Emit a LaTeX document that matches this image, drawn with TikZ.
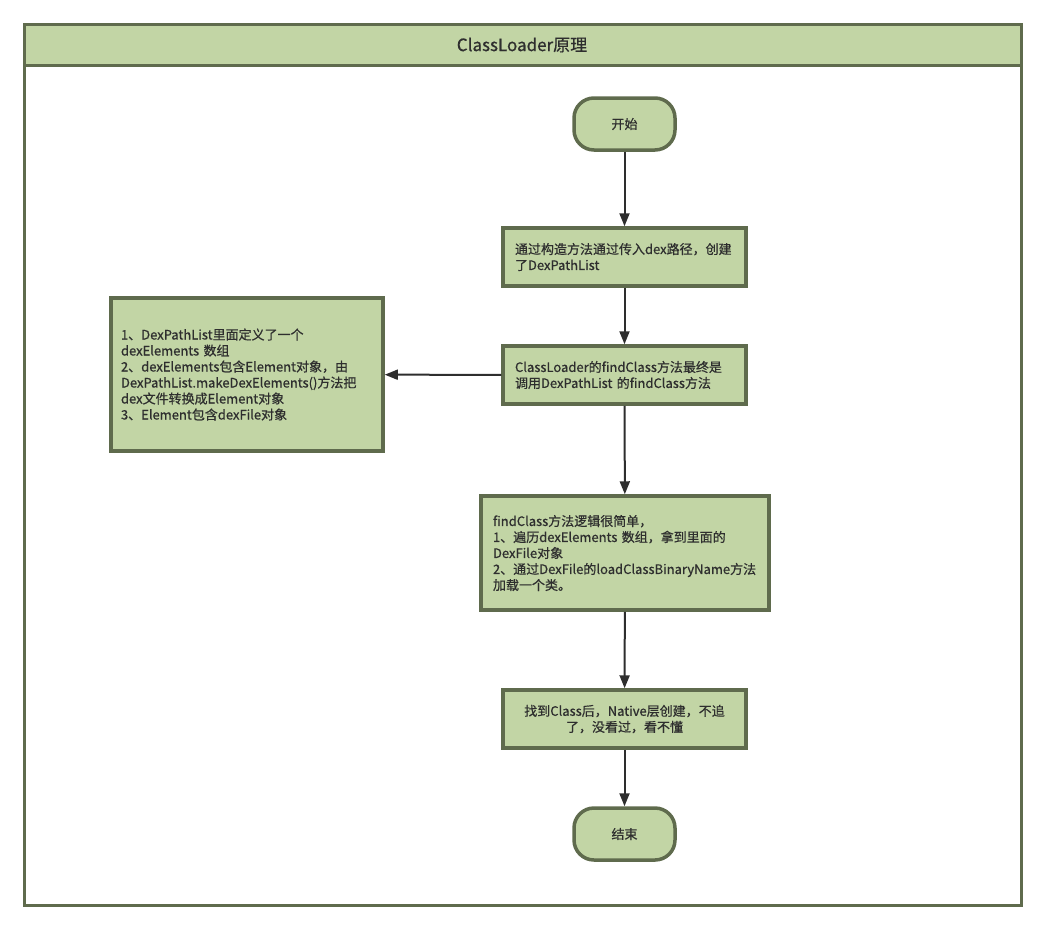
\documentclass[tikz,border=0pt]{standalone}
\usepackage{fontspec}
\setmainfont{Noto Sans CJK SC}[FakeBold=0.6]
\usetikzlibrary{arrows.meta,positioning}
\definecolor{olive}{HTML}{5F6B4D}
\definecolor{leaf}{HTML}{C2D5A5}
\definecolor{ink}{HTML}{2E2E2E}
\tikzset{
  x=1pt,y=1pt,
  frame/.style={draw=olive,line width=3pt},
  stepbox/.style={draw=olive,fill=leaf,line width=3.5pt,rectangle,inner sep=0pt,
    font=\fontsize{13}{16}\selectfont,text=ink,align=left},
  term/.style={draw=olive,fill=leaf,line width=3.5pt,rectangle,rounded corners=20pt,
    minimum width=101pt,minimum height=52pt,inner sep=0pt,
    font=\fontsize{13}{16}\selectfont,text=ink},
  flow/.style={draw=ink,line width=2pt,-{Triangle[length=13pt,width=10pt]}}
}
\begin{document}
\begin{tikzpicture}
\useasboundingbox (0,0) rectangle (1046,-930);
% frame and title band
\path[fill=leaf] (24,-24) rectangle (1021,-65);
\draw[frame] (24,-24) rectangle (1021,-905);
\draw[frame] (24,-65) -- (1021,-65);
\node[font=\fontsize{17}{20}\selectfont,text=ink] (title) at (522,-45) {ClassLoader原理};
% nodes
\node[term] (start) at (624.5,-124) {开始};
\node[stepbox,minimum width=243pt,minimum height=58pt,text width=219pt] (b1) at (624.5,-257)
  {通过构造方法通过传入dex路径，创建\\了DexPathList};
\node[stepbox,minimum width=243pt,minimum height=58pt,text width=219pt] (b2) at (624.5,-375)
  {ClassLoader的findClass方法最终是\\调用DexPathList 的findClass方法};
\node[stepbox,minimum width=272pt,minimum height=153pt,text width=252pt] (side) at (247,-374.5)
  {1、DexPathList里面定义了一个\\dexElements 数组\\2、dexElements包含Element对象，由\\DexPathList.makeDexElements()方法把\\dex文件转换成Element对象\\3、Element包含dexFile对象};
\node[stepbox,minimum width=288pt,minimum height=114pt,text width=264pt] (b3) at (625,-553)
  {findClass方法逻辑很简单，\\1、遍历dexElements 数组，拿到里面的\\DexFile对象\\2、通过DexFile的loadClassBinaryName方法\\加载一个类。};
\node[stepbox,minimum width=243pt,minimum height=58pt,text width=225pt,align=center] (b4) at (624.5,-719)
  {找到Class后，Native层创建，不追\\了，没看过，看不懂};
\node[term] (stop) at (624.5,-834) {结束};
% connectors
\draw[flow] (start) -- (b1);
\draw[flow] (b1) -- (b2);
\draw[flow] (b2) -- (b3);
\draw[flow] (b3) -- (b4);
\draw[flow] (b4) -- (stop);
\draw[flow] (b2) -- (side);
\end{tikzpicture}
\end{document}
